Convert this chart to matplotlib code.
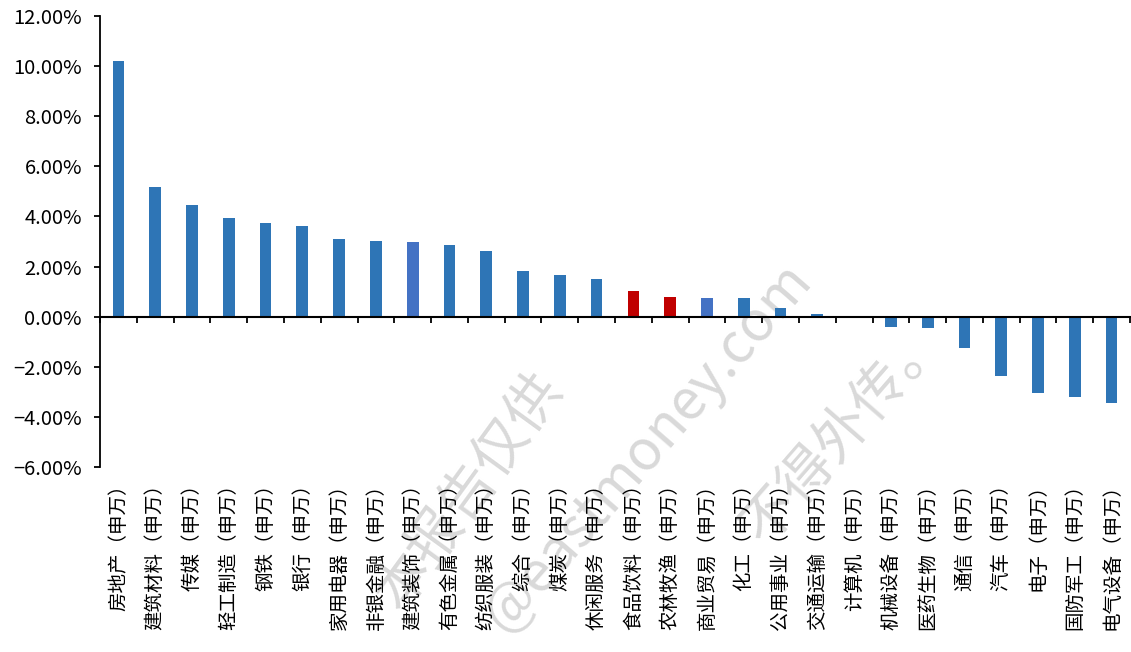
import numpy as np
import matplotlib; matplotlib.use('Agg')
import matplotlib.pyplot as plt
from matplotlib.transforms import blended_transform_factory
from matplotlib.ticker import FuncFormatter

plt.rcParams['font.family'] = ['Noto Sans CJK SC', 'DejaVu Sans']

industries = ['房地产', '建筑材料', '传媒', '轻工制造', '钢铁', '银行', '家用电器',
              '非银金融', '建筑装饰', '有色金属', '纺织服装', '综合', '煤炭', '休闲服务',
              '食品饮料', '农林牧渔', '商业贸易', '化工', '公用事业', '交通运输',
              '计算机', '机械设备', '医药生物', '通信', '汽车', '电子', '国防军工', '电气设备']
labels = [s + '（申万）' for s in industries]
returns = [10.22, 5.19, 4.47, 3.95, 3.75, 3.63, 3.11, 3.03, 2.99, 2.87, 2.63,
           1.84, 1.68, 1.52, 1.04, 0.80, 0.76, 0.76, 0.36, 0.12, -0.03, -0.42,
           -0.46, -1.27, -2.37, -3.03, -3.19, -3.45]
highlight_red = ['食品饮料', '农林牧渔']
highlight_blue = ['建筑装饰', '商业贸易']

colors = []
for s in industries:
    if s in highlight_red:
        colors.append('#C00000')
    elif s in highlight_blue:
        colors.append('#4472C4')
    else:
        colors.append('#2E75B6')

W, H = 1131, 652
fig = plt.figure(figsize=(W/100, H/100), dpi=100)
ax = fig.add_axes([100/W, 1-467/H, 1030/W, 451/H])
ax.patch.set_facecolor('none')

x = np.arange(len(returns))
ax.bar(x, returns, width=0.32, color=colors, zorder=3)

ax.set_xlim(-0.5, len(returns)-0.5)
ax.set_ylim(-6, 12)
ax.set_yticks(np.arange(-6, 12.1, 2))
ax.yaxis.set_major_formatter(FuncFormatter(lambda v, p: f'{v:.2f}%'.replace('-', '\u2212')))
ax.tick_params(axis='y', direction='out', length=4, width=1.3, pad=9, labelsize=14.5)

for sp in ['top', 'right']:
    ax.spines[sp].set_visible(False)
ax.spines['left'].set_linewidth(1.3)
ax.spines['bottom'].set_position(('data', 0))
ax.spines['bottom'].set_linewidth(1.5)
ax.spines['bottom'].set_zorder(4)

ax.set_xticks(np.arange(len(returns)+1) - 0.5)
ax.set_xticklabels([])
ax.tick_params(axis='x', direction='out', length=4.5, width=1.3)

trans = blended_transform_factory(ax.transData, ax.transAxes)
for xi, lab in zip(x, labels):
    ax.text(xi, -0.016, lab, transform=trans, rotation=90, ha='center', va='top',
            fontsize=14, color='black')

# watermark, behind the axes
wm = dict(color='#d9d9d9', ha='center', va='center', rotation_mode='anchor', zorder=-1)
fig.text(470/W, 1-492/H, '本报告仅供', fontsize=40, rotation=54, **wm)
fig.text(648/W, 1-447/H, '@eastmoney.com', fontsize=40, rotation=49, **wm)
fig.text(844/W, 1-432/H, '不得外传。', fontsize=40, rotation=49, **wm)

fig.savefig('out.png', dpi=100)
